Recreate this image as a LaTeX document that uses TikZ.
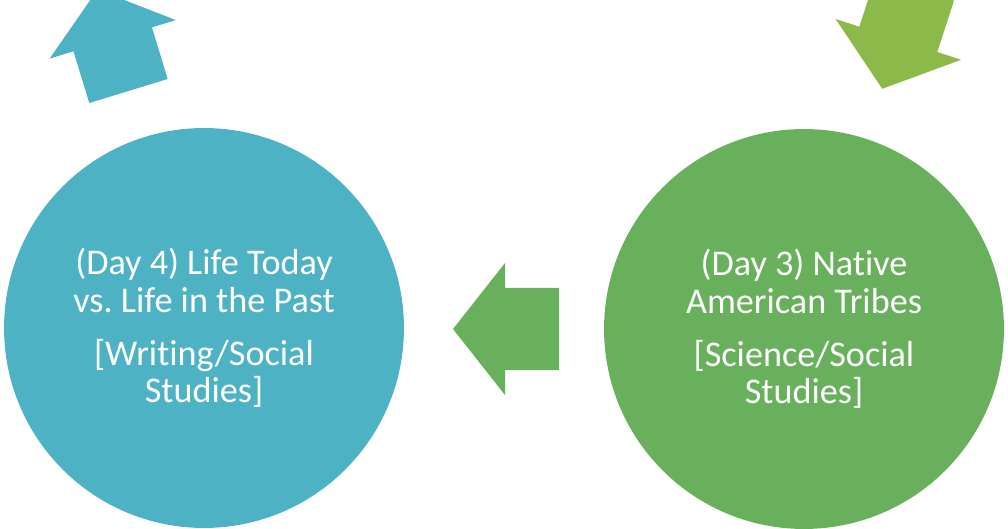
\documentclass[tikz,border=0pt]{standalone}
\usepackage{fontspec}
\setmainfont[Ligatures={NoCommon,NoRare}]{Carlito}
\definecolor{dayfour}{RGB}{77,178,196}
\definecolor{daythree}{RGB}{104,176,92}
\definecolor{lime}{RGB}{140,186,74}

\tikzset{
	blockarrow/.pic={
		\fill (0,41) -- (54,41) -- (54,66) -- (106,0) -- (54,-66) -- (54,-41) -- (0,-41) -- cycle;
	}
}

\begin{document}
\begin{tikzpicture}
	[x=0.02cm,y=0.02cm,
	 daycircle/.style={circle, minimum size=8cm, inner sep=0pt, text=white, align=center,
	   font=\fontsize{20.6}{21.5}\selectfont}]
	\clip (0,0) rectangle (1008,528);
	\useasboundingbox (0,0) rectangle (1008,528);
	
	% circles
	\node[daycircle, fill=dayfour] (day4) at (204,200) {(Day 4) Life Today\\vs.\ Life in the Past\\[8.5pt]{[Writing/Social}\\Studies]};
	\node[daycircle, fill=daythree] (day3) at (804,199) {(Day 3) Native\\American Tribes\\[8.5pt]{[Science/Social}\\Studies]};
	
	% arrows
	\pic[fill=daythree, rotate=180] at (559,199) {blockarrow};
	\pic[fill=dayfour, rotate=107] at (128.5,437) {blockarrow};
	\pic[fill=lime, rotate=252] at (915,540) {blockarrow};
\end{tikzpicture}
\end{document}
